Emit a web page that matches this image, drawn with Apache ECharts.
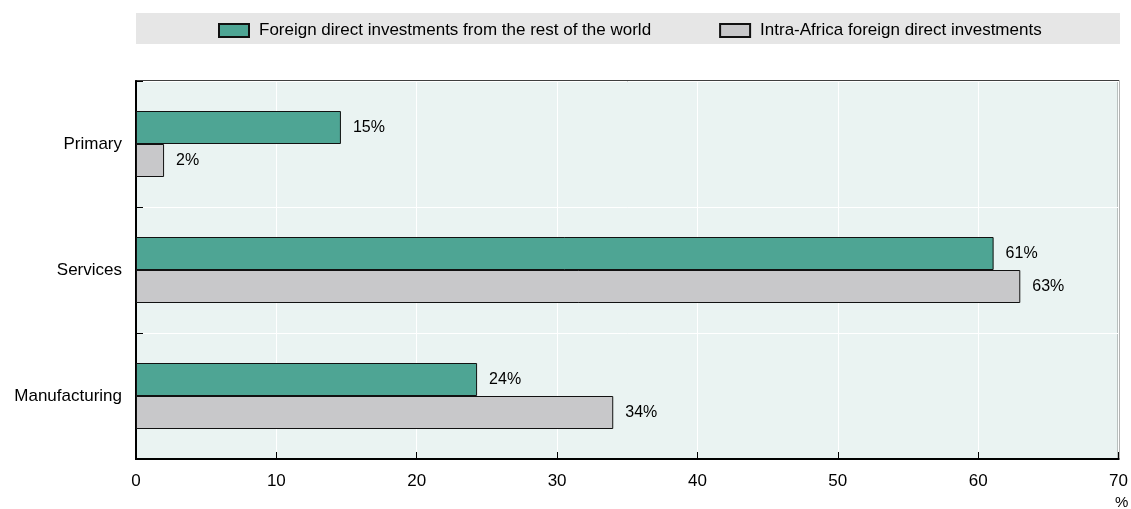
<!DOCTYPE html>
<html>
<head>
<meta charset="utf-8">
<script src="https://cdn.jsdelivr.net/npm/echarts@6/dist/echarts.min.js"></script>
<style>
html,body{margin:0;padding:0;background:#fff;}
#chart{width:1131px;height:509px;}
</style>
</head>
<body>
<div id="chart"></div>
<script>
var categories = ['Primary', 'Services', 'Manufacturing'];
var restOfWorld = [14.6, 61.1, 24.3];
var intraAfrica = [2.0, 63.0, 34.0];
var seriesNames = ['Foreign direct investments from the rest of the world', 'Intra-Africa foreign direct investments'];
var xTicks = { min: 0, max: 70, interval: 10 };

var FONT = '"Liberation Sans", Arial, sans-serif';
var chart = echarts.init(document.getElementById('chart'));
var labelCfg = {
  show: true, position: 'right', distance: 12,
  fontFamily: FONT, fontSize: 16, color: '#000',
  formatter: function (p) { return Math.round(p.value) + '%'; }
};
chart.setOption({
  animation: false,
  textStyle: { fontFamily: FONT },
  graphic: [
    { type: 'rect', shape: { x: 136, y: 13, width: 984, height: 31 }, style: { fill: '#E6E6E6' }, silent: true },
    { type: 'text', left: 1115, top: 495, style: { text: '%', fontFamily: FONT, fontSize: 15, fill: '#000' } }
  ],
  legend: {
    left: 213, top: 17, itemWidth: 30, itemHeight: 13, itemGap: 68, icon: 'rect',
    textStyle: { fontFamily: FONT, fontSize: 17, color: '#000', padding: [0, 0, 0, 5] },
    data: seriesNames
  },
  grid: {
    left: 136, right: 12, top: 81, bottom: 50,
    show: true, backgroundColor: '#EAF3F2', borderColor: '#000', borderWidth: 1.5
  },
  xAxis: {
    type: 'value', min: xTicks.min, max: xTicks.max, interval: xTicks.interval,
    axisLine: { show: true, lineStyle: { color: '#000', width: 2 } },
    axisTick: { show: true, inside: true, length: 7, lineStyle: { color: '#000' } },
    axisLabel: { color: '#000', fontSize: 17, margin: 14, fontFamily: FONT },
    splitLine: { show: true, lineStyle: { color: '#fff', width: 1 } }
  },
  yAxis: {
    type: 'category', data: categories, inverse: true,
    axisLine: { show: true, lineStyle: { color: '#000', width: 2 } },
    axisTick: { show: true, inside: true, length: 7, lineStyle: { color: '#000' } },
    axisLabel: { color: '#000', fontSize: 17, margin: 14, fontFamily: FONT },
    splitLine: { show: true, lineStyle: { color: '#fff', width: 1 } }
  },
  series: [
    { name: seriesNames[0], type: 'bar', data: restOfWorld, barWidth: 33, barGap: '0%',
      itemStyle: { color: '#4EA594', borderColor: '#111', borderWidth: 1 }, label: labelCfg },
    { name: seriesNames[1], type: 'bar', data: intraAfrica, barWidth: 33, barGap: '0%',
      itemStyle: { color: '#C8C8CA', borderColor: '#111', borderWidth: 1 }, label: labelCfg }
  ]
});
</script>
</body>
</html>
